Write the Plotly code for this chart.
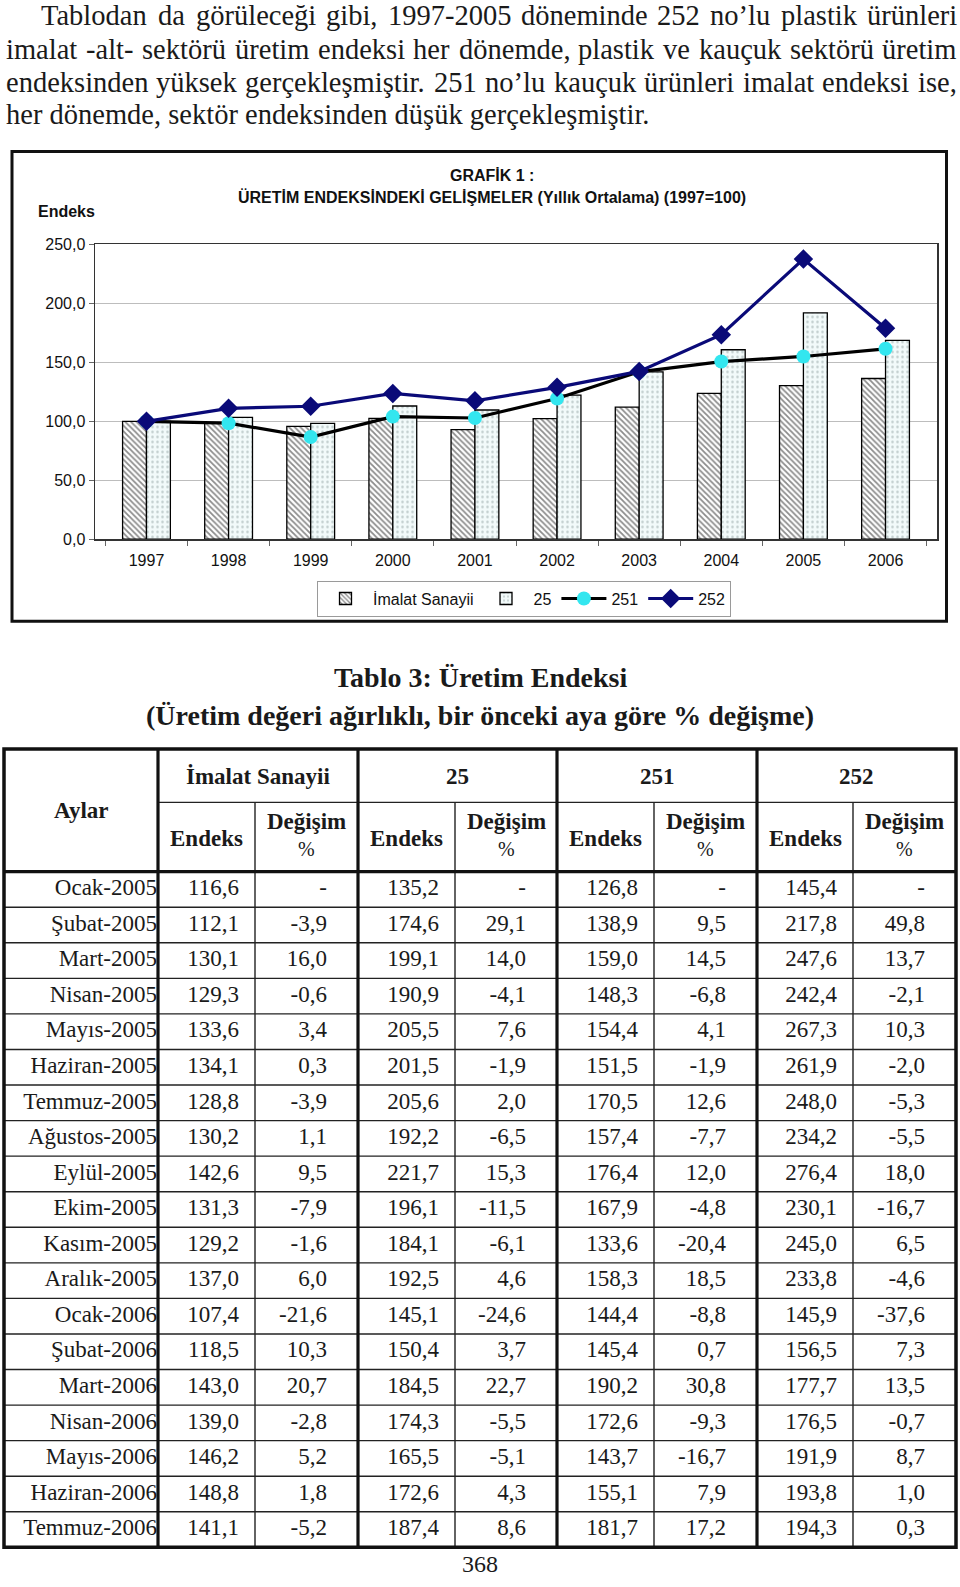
import plotly.graph_objects as go

# ---------------- data ----------------
years = ["1997", "1998", "1999", "2000", "2001", "2002", "2003", "2004", "2005", "2006"]
imalat_yillik = [100.0, 98.5, 95.8, 102.5, 93.0, 102.3, 112.0, 123.7, 130.2, 136.3]
s25_yillik = [100.0, 103.3, 98.2, 113.0, 109.6, 122.2, 142.0, 160.7, 192.0, 168.7]
s251_yillik = [100.0, 98.4, 86.7, 104.0, 102.8, 119.4, 142.0, 150.7, 155.0, 161.5]
s252_yillik = [100.0, 111.0, 112.8, 123.7, 117.4, 128.8, 142.3, 173.5, 237.6, 178.9]
yticks = [0, 50, 100, 150, 200, 250]

months = ["Ocak-2005", "Şubat-2005", "Mart-2005", "Nisan-2005", "Mayıs-2005", "Haziran-2005",
          "Temmuz-2005", "Ağustos-2005", "Eylül-2005", "Ekim-2005", "Kasım-2005", "Aralık-2005",
          "Ocak-2006", "Şubat-2006", "Mart-2006", "Nisan-2006", "Mayıs-2006", "Haziran-2006",
          "Temmuz-2006"]
imalat_endeks = [116.6, 112.1, 130.1, 129.3, 133.6, 134.1, 128.8, 130.2, 142.6, 131.3, 129.2, 137.0,
                 107.4, 118.5, 143.0, 139.0, 146.2, 148.8, 141.1]
imalat_deg = [None, -3.9, 16.0, -0.6, 3.4, 0.3, -3.9, 1.1, 9.5, -7.9, -1.6, 6.0,
              -21.6, 10.3, 20.7, -2.8, 5.2, 1.8, -5.2]
s25_endeks = [135.2, 174.6, 199.1, 190.9, 205.5, 201.5, 205.6, 192.2, 221.7, 196.1, 184.1, 192.5,
              145.1, 150.4, 184.5, 174.3, 165.5, 172.6, 187.4]
s25_deg = [None, 29.1, 14.0, -4.1, 7.6, -1.9, 2.0, -6.5, 15.3, -11.5, -6.1, 4.6,
           -24.6, 3.7, 22.7, -5.5, -5.1, 4.3, 8.6]
s251_endeks = [126.8, 138.9, 159.0, 148.3, 154.4, 151.5, 170.5, 157.4, 176.4, 167.9, 133.6, 158.3,
               144.4, 145.4, 190.2, 172.6, 143.7, 155.1, 181.7]
s251_deg = [None, 9.5, 14.5, -6.8, 4.1, -1.9, 12.6, -7.7, 12.0, -4.8, -20.4, 18.5,
            -8.8, 0.7, 30.8, -9.3, -16.7, 7.9, 17.2]
s252_endeks = [145.4, 217.8, 247.6, 242.4, 267.3, 261.9, 248.0, 234.2, 276.4, 230.1, 245.0, 233.8,
               145.9, 156.5, 177.7, 176.5, 191.9, 193.8, 194.3]
s252_deg = [None, 49.8, 13.7, -2.1, 10.3, -2.0, -5.3, -5.5, 18.0, -16.7, 6.5, -4.6,
            -37.6, 7.3, 13.5, -0.7, 8.7, 1.0, 0.3]

paragraph = [
    "Tablodan da görüleceği gibi, 1997-2005 döneminde 252 no’lu plastik ürünleri",
    "imalat -alt- sektörü üretim endeksi her dönemde, plastik ve kauçuk sektörü üretim",
    "endeksinden yüksek gerçekleşmiştir. 251 no’lu kauçuk ürünleri imalat endeksi ise,",
    "her dönemde, sektör endeksinden düşük gerçekleşmiştir.",
]

# ---------------- page geometry (px) ----------------
W, H = 960, 1587
SERIF = "Liberation Serif, Times New Roman, serif"
SANS = "Liberation Sans, Arial, sans-serif"

def py(p):  # pixel y -> paper y
    return 1 - p / H

PLOT_L, PLOT_R, PLOT_T, PLOT_B = 95, 937, 239, 537

fig = go.Figure()

# ---------------- chart ----------------
fig.add_trace(go.Bar(
    x=years, y=imalat_yillik, name="İmalat Sanayii",
    marker=dict(color="white", line=dict(color="black", width=1.3),
                pattern=dict(shape="\\", fgcolor="#1a1a1a", bgcolor="white", size=4, solidity=0.45)),
    hoverinfo="skip"))
fig.add_trace(go.Bar(
    x=years, y=s25_yillik, name="25",
    marker=dict(color="#f2fafa", line=dict(color="black", width=1.3),
                pattern=dict(shape=".", fgcolor="#8a9a9a", bgcolor="#f2fafa", size=5, solidity=0.2)),
    hoverinfo="skip"))
fig.add_trace(go.Scatter(
    x=years, y=s251_yillik, name="251", mode="lines+markers",
    line=dict(color="black", width=3.2),
    marker=dict(symbol="circle", size=14, color="#33e6ef", line=dict(width=0)),
    hoverinfo="skip"))
fig.add_trace(go.Scatter(
    x=years, y=s252_yillik, name="252", mode="lines+markers",
    line=dict(color="#0a0a78", width=3.2),
    marker=dict(symbol="diamond", size=15, color="#0a0a78", line=dict(width=0)),
    hoverinfo="skip"))

# ---------------- table text (on pixel overlay axes) ----------------
C = [4, 158, 255, 358, 455, 557, 654, 757, 853, 956]
T_TOP, T_SPLIT, T_HEAD, T_BOT = 749, 803, 873, 1556
ROW_H = (T_BOT - T_HEAD) / len(months)
row_y = [T_HEAD + ROW_H * (i + 0.5) for i in range(len(months))]

def fmt(v):
    return "-" if v is None else f"{v:.1f}".replace(".", ",")

cell_font = dict(family=SERIF, size=23, color="#1a1a1a")

fig.add_trace(go.Scatter(x=[C[1] - 1] * len(months), y=row_y, text=months, mode="text",
                         textposition="middle left", textfont=cell_font,
                         xaxis="x2", yaxis="y2", showlegend=False, hoverinfo="skip"))
cols = [(imalat_endeks, C[2] - 16), (imalat_deg, C[3] - 31),
        (s25_endeks, C[4] - 16), (s25_deg, C[5] - 31),
        (s251_endeks, C[6] - 16), (s251_deg, C[7] - 31),
        (s252_endeks, C[8] - 16), (s252_deg, C[9] - 31)]
for vals, xr in cols:
    fig.add_trace(go.Scatter(x=[xr] * len(vals), y=row_y, text=[fmt(v) for v in vals],
                             mode="text", textposition="middle left", textfont=cell_font,
                             xaxis="x2", yaxis="y2", showlegend=False, hoverinfo="skip"))

annotations = []
shapes = []

def ann(x, y, text, size, family=SERIF, bold=False, xanchor="center", color="#1a1a1a"):
    t = f"<b>{text}</b>" if bold else text
    annotations.append(dict(x=x, y=y, xref="x2", yref="y2", text=t, showarrow=False,
                            xanchor=xanchor, yanchor="middle", borderpad=0,
                            font=dict(family=family, size=size, color=color)))

# header
ann((C[0] + C[1]) / 2, 811, "Aylar", 23, bold=True)
for g, name in enumerate(["İmalat Sanayii", "25", "251", "252"]):
    a, b, c = C[1 + 2 * g], C[2 + 2 * g], C[3 + 2 * g]
    ann((a + c) / 2, 777, name, 23, bold=True)
    ann((a + b) / 2, 839, "Endeks", 23, bold=True)
    ann((b + c) / 2, 822, "Değişim", 23, bold=True)
    ann((b + c) / 2, 850, "%", 20)

# table lines
def line(x0, y0, x1, y1, w, color="#111"):
    shapes.append(dict(type="line", xref="x2", yref="y2", x0=x0, y0=y0, x1=x1, y1=y1,
                       line=dict(color=color, width=w)))

for i in range(1, len(months)):
    line(C[0], T_HEAD + ROW_H * i, C[9], T_HEAD + ROW_H * i, 1.4, "#222")
line(C[1], T_SPLIT, C[9], T_SPLIT, 1.4, "#222")
for k in (2, 4, 6, 8):
    line(C[k], T_SPLIT, C[k], T_BOT, 1.4, "#222")
for k in (1, 3, 5, 7):
    line(C[k], T_TOP, C[k], T_BOT, 3.2)
line(C[0], T_HEAD, C[9], T_HEAD, 3.2)
shapes.append(dict(type="rect", xref="x2", yref="y2", x0=C[0], y0=T_TOP, x1=C[9], y1=T_BOT,
                   line=dict(color="#111", width=3.5)))

# table title
ann(480, 677, "Tablo 3: Üretim Endeksi", 28, bold=True)
ann(480, 715, "(Üretim değeri ağırlıklı, bir önceki aya göre % değişme)", 28, bold=True)

# page number
ann(480, 1573, "368", 24)

# ---------------- paragraph (justified) ----------------
TW = {' ': 250, ',': 250, '.': 250, '-': 333, '’': 333, "'": 333, '(': 333, ')': 333, ':': 278}
for d in "0123456789":
    TW[d] = 500
TW.update({'A': 722, 'B': 667, 'C': 667, 'D': 722, 'E': 611, 'F': 556, 'G': 722, 'H': 722, 'I': 333,
           'İ': 333, 'K': 722, 'L': 611, 'M': 889, 'N': 722, 'O': 722, 'P': 556, 'R': 667, 'S': 556,
           'Ş': 556, 'T': 611, 'U': 722, 'Ü': 722, 'Y': 722, 'Z': 611,
           'a': 444, 'b': 500, 'c': 444, 'ç': 444, 'd': 500, 'e': 444, 'f': 333, 'g': 500, 'ğ': 500,
           'h': 500, 'i': 278, 'ı': 278, 'j': 278, 'k': 500, 'l': 278, 'm': 778, 'n': 500, 'o': 500,
           'ö': 500, 'p': 500, 'r': 333, 's': 389, 'ş': 389, 't': 278, 'u': 500, 'ü': 500, 'v': 500,
           'y': 500, 'z': 444})

PFS = 28.5
def tw(s):
    return sum(TW.get(ch, 500) for ch in s) / 1000 * PFS * 0.99

para_y = [8, 41.5, 75, 108]
para_x0 = [40, 5, 5, 5]
PARA_R = 955
for li, text in enumerate(paragraph):
    if li == len(paragraph) - 1:
        ann(para_x0[li], para_y[li], text, PFS, xanchor="left")
        continue
    words = text.split(" ")
    widths = [tw(w_) for w_ in words]
    gap = (PARA_R - para_x0[li] - sum(widths)) / (len(words) - 1)
    x = para_x0[li]
    for w_, wd in zip(words, widths):
        ann(x, para_y[li], w_, PFS, xanchor="left")
        x += wd + gap

# ---------------- chart decorations ----------------
ann(492, 169, "GRAFİK 1 :", 16, family=SANS, bold=True, color="#111")
ann(492, 191, "ÜRETİM ENDEKSİNDEKİ GELİŞMELER (Yıllık Ortalama) (1997=100)", 16, family=SANS,
    bold=True, color="#111")
ann(37, 206, "Endeks", 16, family=SANS, bold=True, xanchor="left", color="#111")
shapes.append(dict(type="rect", xref="x2", yref="y2", x0=12, y0=145, x1=946.5, y1=620,
                   line=dict(color="#111", width=3)))

fig.update_layout(
    width=W, height=H, autosize=False,
    margin=dict(l=0, r=0, t=0, b=0),
    paper_bgcolor="white", plot_bgcolor="rgba(0,0,0,0)",
    separators=",.",
    barmode="group", bargap=0.418, bargroupgap=0,
    showlegend=True,
    legend=dict(orientation="h", x=524 / W, xanchor="center", y=py(597), yanchor="middle",
                bordercolor="#9a9a9a", borderwidth=1, bgcolor="white", itemwidth=45,
                font=dict(family=SANS, size=16, color="#111"), traceorder="normal"),
    xaxis=dict(domain=[PLOT_L / W, PLOT_R / W], type="category", tickson="boundaries",
               ticks="outside", ticklen=5, tickcolor="#666", showline=True, linecolor="#333",
               linewidth=1.5, mirror=True, showgrid=False, ticklabelstandoff=6,
               tickfont=dict(family=SANS, size=16, color="#111"), anchor="y", fixedrange=True),
    yaxis=dict(domain=[py(PLOT_B), py(PLOT_T)], range=[0, 250], tickvals=yticks,
               tickformat=".1f", ticks="outside", ticklen=5, tickcolor="#666",
               showline=True, linecolor="#333", linewidth=1.5, mirror=True,
               showgrid=True, gridcolor="#bdbdbd", gridwidth=1, zeroline=False,
               tickfont=dict(family=SANS, size=16, color="#111"), anchor="x", fixedrange=True),
    xaxis2=dict(domain=[0, 1], range=[0, W], visible=False, anchor="y2", fixedrange=True),
    yaxis2=dict(domain=[0, 1], range=[H, 0], visible=False, anchor="x2", fixedrange=True),
    annotations=annotations, shapes=shapes,
)

fig.write_html("out.html",
               config={"displayModeBar": False, "staticPlot": True},
               post_script="document.body.style.margin='0';"
                           "document.documentElement.style.overflow='hidden';"
                           "document.body.style.overflow='hidden';")
